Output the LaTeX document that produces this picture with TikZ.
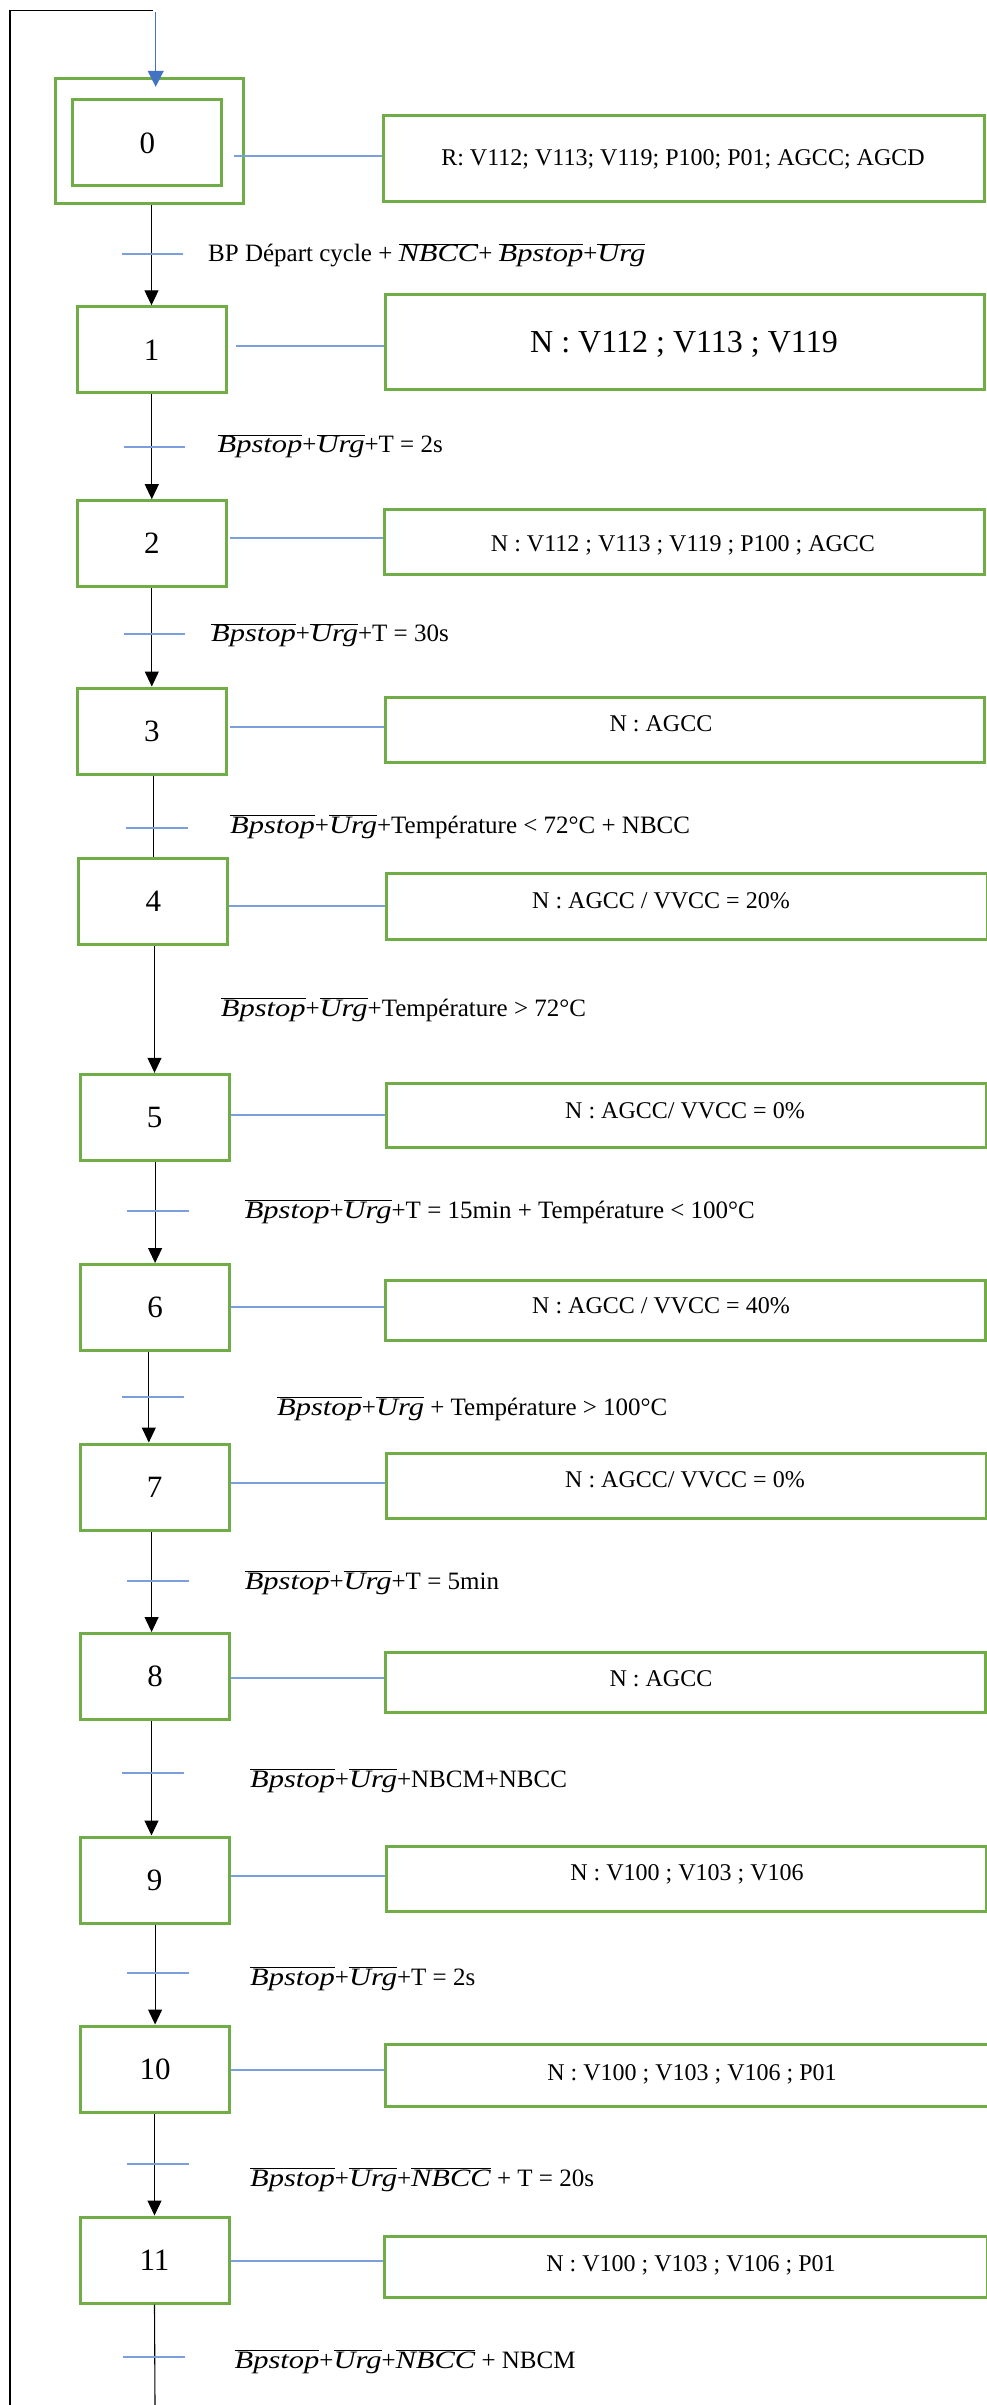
\documentclass[tikz,border=0pt]{standalone}
\usepackage{fontspec}
\setmainfont{Liberation Serif}
\usetikzlibrary{arrows.meta,calc}
\definecolor{grn}{HTML}{70AD47}
\definecolor{blu}{HTML}{4472C4}
\definecolor{lblu}{HTML}{7B9FDC}
\newcommand\ob[1]{$\overline{\mbox{\scalebox{1.22}[1]{\itshape #1}}}$}
\begin{document}
\begin{tikzpicture}[x=1pt,y=-1pt,
  stepbox/.style={draw=grn,line width=3pt,minimum width=149pt,minimum height=86pt,inner sep=0pt,font=\fontsize{31}{36}\selectfont},
  actbox/.style={draw=grn,line width=3pt,inner sep=0pt},
  acttxt/.style={anchor=base,inner sep=0pt,font=\fontsize{24}{28}\selectfont},
  trtxt/.style={anchor=base west,inner sep=0pt,font=\fontsize{25}{30}\selectfont},
  link/.style={draw=lblu,line width=2pt},
  tbar/.style={draw=lblu,line width=2pt},
  flow/.style={draw=black,line width=1.1pt,-{Triangle[length=15pt,width=14pt]}},
  plainline/.style={draw=black,line width=1.1pt},
  initarr/.style={draw=blu,line width=1.3pt,-{Triangle[length=16pt,width=16pt]}},
]
\path[use as bounding box] (0,0) rectangle (987,2405);

% steps
\node[draw=grn,line width=3pt,minimum width=188pt,minimum height=125pt,inner sep=0pt] (s0) at (149.5,141.4) {};
\node[stepbox,minimum width=149pt] (s0i) at (147.4,143) {0};
\node[stepbox] (s1) at (151.5,349.8) {1};
\node[stepbox] (s2) at (151.8,543.7) {2};
\node[stepbox] (s3) at (151.8,731) {3};
\node[stepbox] (s4) at (153.3,901) {4};
\node[stepbox] (s5) at (154.5,1117.3) {5};
\node[stepbox] (s6) at (155.1,1307.5) {6};
\node[stepbox] (s7) at (154.5,1487) {7};
\node[stepbox] (s8) at (155.1,1676.5) {8};
\node[stepbox] (s9) at (154.5,1880) {9};
\node[stepbox] (s10) at (155.1,2069) {10};
\node[stepbox] (s11) at (154.5,2260) {11};

% action boxes
\node[actbox,minimum width=601pt,minimum height=86pt] (a0) at (683.5,159) {};
\node[actbox,minimum width=599pt,minimum height=94pt] (a1) at (684.5,342) {};
\node[actbox,minimum width=600pt,minimum height=65pt] (a2) at (684,541.5) {};
\node[actbox,minimum width=599pt,minimum height=65pt] (a3) at (684.5,729.5) {};
\node[actbox,minimum width=601pt,minimum height=66pt] (a4) at (686.5,906) {};
\node[actbox,minimum width=600pt,minimum height=64pt] (a5) at (686.7,1115) {};
\node[actbox,minimum width=600pt,minimum height=60pt] (a6) at (685.7,1310) {};
\node[actbox,minimum width=600pt,minimum height=65pt] (a7) at (686.7,1485.5) {};
\node[actbox,minimum width=600pt,minimum height=60pt] (a8) at (685.2,1682) {};
\node[actbox,minimum width=600pt,minimum height=65pt] (a9) at (686.7,1878.5) {};
\node[actbox,minimum width=603pt,minimum height=62pt] (a10) at (686.5,2075) {};
\node[actbox,minimum width=603pt,minimum height=61pt] (a11) at (686.3,2266.5) {};

% action texts
\node[acttxt] (a0t) at (683,166) {R: V112; V113; V119; P100; P01; AGCC; AGCD};
\node[acttxt,font=\fontsize{32}{38}\selectfont] (a1t) at (684,352.5) {N : V112 ; V113 ; V119};
\node[acttxt] (a2t) at (683,551) {N : V112 ; V113 ; V119 ; P100 ; AGCC};
\node[acttxt] (a3t) at (661,731) {N : AGCC};
\node[acttxt] (a4t) at (661,908) {N : AGCC / VVCC = 20\%};
\node[acttxt] (a5t) at (685,1118) {N : AGCC/ VVCC = 0\%};
\node[acttxt] (a6t) at (661,1313) {N : AGCC / VVCC = 40\%};
\node[acttxt] (a7t) at (685,1487) {N : AGCC/ VVCC = 0\%};
\node[acttxt] (a8t) at (661,1686) {N : AGCC};
\node[acttxt] (a9t) at (687,1880) {N : V100 ; V103 ; V106};
\node[acttxt] (a10t) at (692,2080) {N : V100 ; V103 ; V106 ; P01};
\node[acttxt] (a11t) at (691,2271) {N : V100 ; V103 ; V106 ; P01};

% links step -> action
\draw[link] ($(s0.east |- a0.west)+(-10.7,-3)$) -- ($(a0.west)+(0,-3)$);
\draw[link] ($(s1.east |- a1.west)+(8,4)$) -- ($(a1.west)+(0,4)$);
\draw[link] ($(s2.east |- a2.west)+(2,-4)$) -- ($(a2.west)+(0,-4)$);
\draw[link] ($(s3.east |- a3.west)+(2,-2.5)$) -- ($(a3.west)+(0,-2.5)$);
\draw[link] (s4.east |- a4.west) -- (a4.west);
\draw[link] (s5.east |- a5.west) -- (a5.west);
\draw[link] ($(s6.east |- a6.west)+(0,-3)$) -- ($(a6.west)+(0,-3)$);
\draw[link] ($(s7.east |- a7.west)+(0,-2.5)$) -- ($(a7.west)+(0,-2.5)$);
\draw[link] ($(s8.east |- a8.west)+(0,-4)$) -- ($(a8.west)+(0,-4)$);
\draw[link] ($(s9.east |- a9.west)+(0,-2.5)$) -- ($(a9.west)+(0,-2.5)$);
\draw[link] ($(s10.east |- a10.west)+(0,-5)$) -- ($(a10.west)+(0,-5)$);
\draw[link] ($(s11.east |- a11.west)+(0,-5.5)$) -- ($(a11.west)+(0,-5.5)$);

% flow connectors
\draw[flow] (s1.north |- s0.south) -- (s1.north);
\draw[flow] (s2.north |- s1.south) -- (s2.north);
\draw[flow] (s3.north |- s2.south) -- (s3.north);
\draw[plainline] (s4.north |- s3.south) -- (s4.north);
\draw[flow] (s5.north |- s4.south) -- (s5.north);
\draw[flow] (s6.north |- s5.south) -- (s6.north);
\draw[flow] ($(s7.north |- s6.south)+(-5.7,0)$) -- ($(s7.north)+(-5.7,0)$);
\draw[flow] ($(s8.north |- s7.south)+(-3.5,0)$) -- ($(s8.north)+(-3.5,0)$);
\draw[flow] ($(s9.north |- s8.south)+(-3,0)$) -- ($(s9.north)+(-3,0)$);
\draw[flow] (s10.north |- s9.south) -- (s10.north);
\draw[flow] (s11.north |- s10.south) -- (s11.north);
\coordinate (endc) at (155,2405);
\draw[plainline] (s11.south) -- (endc);

% return line and initial arrow
\coordinate (lb) at (10,2405);
\coordinate (lt) at (10,10.3);
\coordinate (rt) at (153,10.3);
\draw[plainline] (lb) -- (lt) -- (rt);
\coordinate (ain) at (155.7,12.3);
\draw[initarr] (ain) -- ($(ain |- s0i.north)+(0,-11.7)$);

% transition bars
\draw[tbar] (122,254.3) -- (183,254.3);
\draw[tbar] (124,447) -- (185,447);
\draw[tbar] (124,634) -- (185,634);
\draw[tbar] (126,828) -- (188,828);
\draw[tbar] (127,1211) -- (189,1211);
\draw[tbar] (122,1397) -- (184,1397);
\draw[tbar] (127,1581) -- (189,1581);
\draw[tbar] (122,1773) -- (183.5,1773);
\draw[tbar] (127,1973) -- (189,1973);
\draw[tbar] (127,2164) -- (189,2164);
\draw[tbar] (123,2357) -- (185,2357);

% transition labels
\node[trtxt] (t01) at (208,262) {BP Départ cycle + \ob{NBCC}+ \ob{Bpstop}+\ob{Urg}};
\node[trtxt] (t12) at (217.5,452.7) {\ob{Bpstop}+\ob{Urg}+T = 2s};
\node[trtxt] (t23) at (211,641.7) {\ob{Bpstop}+\ob{Urg}+T = 30s};
\node[trtxt] (t34) at (230,833) {\ob{Bpstop}+\ob{Urg}+Température < 72°C + NBCC};
\node[trtxt] (t45) at (220.7,1016) {\ob{Bpstop}+\ob{Urg}+Température > 72°C};
\node[trtxt] (t56) at (244.6,1218) {\ob{Bpstop}+\ob{Urg}+T = 15min + Température < 100°C};
\node[trtxt] (t67) at (277,1415) {\ob{Bpstop}+\ob{Urg} + Température > 100°C};
\node[trtxt] (t78) at (244.6,1589) {\ob{Bpstop}+\ob{Urg}+T = 5min};
\node[trtxt] (t89) at (250,1787) {\ob{Bpstop}+\ob{Urg}+NBCM+NBCC};
\node[trtxt] (t910) at (250,1985) {\ob{Bpstop}+\ob{Urg}+T = 2s};
\node[trtxt] (t1011) at (250,2186) {\ob{Bpstop}+\ob{Urg}+\ob{NBCC} + T = 20s};
\node[trtxt] (t11x) at (234.5,2368) {\ob{Bpstop}+\ob{Urg}+\ob{NBCC} + NBCM};
\end{tikzpicture}
\end{document}
